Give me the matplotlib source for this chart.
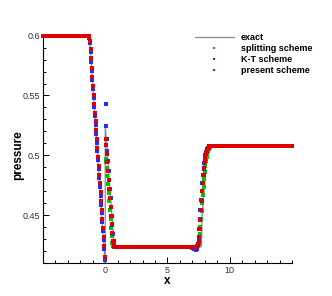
import matplotlib
matplotlib.use('Agg')
import matplotlib.pyplot as plt
from matplotlib.lines import Line2D
from matplotlib.ticker import MultipleLocator, FixedLocator, FormatStrFormatter

plt.rcParams['font.family'] = ['Liberation Sans', 'DejaVu Sans']

# exact solution
exact_x = [-5.0, -1.27, 0.0, 0.0, 0.72, 7.72, 7.78, 8.2, 15.0]
exact_y = [0.6, 0.6, 0.408, 0.525, 0.4235, 0.4235, 0.449, 0.508, 0.508]

# plateau levels
p_left = 0.6
p_mid = 0.4235
p_right = 0.508

# grid points, by region
x_flat_left = [-5.0, -4.8, -4.6, -4.4, -4.2, -4.0, -3.8, -3.6, -3.4, -3.2, -3.0, -2.8,
               -2.6, -2.4, -2.2, -2.0, -1.8, -1.6, -1.4]
x_fan = [-1.325, -1.275, -1.225, -1.175, -1.125, -1.075, -1.025, -0.975, -0.925,
         -0.875, -0.825, -0.775, -0.725, -0.675, -0.625, -0.575, -0.525, -0.475,
         -0.425, -0.375, -0.325, -0.275, -0.225, -0.175, -0.125, -0.075, -0.025]
x_drop = [0.025, 0.075, 0.125, 0.175, 0.225, 0.275, 0.325, 0.375, 0.425, 0.475,
          0.525, 0.575, 0.625, 0.675, 0.725, 0.775]
x_flat_mid = [0.8, 1.0, 1.2, 1.4, 1.6, 1.8, 2.0, 2.2, 2.4, 2.6, 2.8, 3.0, 3.2, 3.4, 3.6,
              3.8, 4.0, 4.2, 4.4, 4.6, 4.8, 5.0, 5.2, 5.4, 5.6, 5.8, 6.0, 6.2, 6.4, 6.6, 6.8]
x_shock = [7.0, 7.05, 7.1, 7.15, 7.2, 7.25, 7.3, 7.35, 7.4, 7.45, 7.5, 7.55, 7.6, 7.65,
           7.7, 7.75, 7.8, 7.85, 7.9, 7.95, 8.0, 8.05, 8.1, 8.15, 8.2, 8.25, 8.3, 8.35,
           8.4, 8.45, 8.5, 8.55, 8.6]
x_flat_right = [8.8, 9.0, 9.2, 9.4, 9.6, 9.8, 10.0, 10.2, 10.4, 10.6, 10.8, 11.0, 11.2,
                11.4, 11.6, 11.8, 12.0, 12.2, 12.4, 12.6, 12.8, 13.0, 13.2, 13.4, 13.6,
                13.8, 14.0, 14.2, 14.4, 14.6, 14.8, 15.0]

# present scheme (red)
red_fan = [0.5998, 0.5990, 0.5958, 0.5890, 0.5810, 0.5732, 0.5656, 0.5581, 0.5506,
           0.5431, 0.5357, 0.5283, 0.5209, 0.5135, 0.5061, 0.4987, 0.4913, 0.4839,
           0.4765, 0.4691, 0.4617, 0.4543, 0.4469, 0.4395, 0.4321, 0.4240, 0.4150]
red_drop = [0.5140, 0.5085, 0.5015, 0.4940, 0.4866, 0.4792, 0.4718, 0.4644, 0.4570,
            0.4496, 0.4422, 0.4348, 0.4285, 0.4250, 0.4238, 0.4235]
red_shock = [0.4235, 0.4235, 0.4235, 0.4235, 0.4235, 0.4235, 0.4235, 0.4236, 0.4240,
             0.4250, 0.4275, 0.4320, 0.4385, 0.4460, 0.4540, 0.4620, 0.4700, 0.4772,
             0.4838, 0.4893, 0.4940, 0.4978, 0.5008, 0.5030, 0.5046, 0.5057, 0.5065,
             0.5070, 0.5074, 0.5076, 0.5078, 0.5079, 0.5080]

# splitting scheme (green)
green_fan = [0.5997, 0.5986, 0.5950, 0.5878, 0.5797, 0.5719, 0.5642, 0.5567, 0.5492,
             0.5417, 0.5343, 0.5269, 0.5195, 0.5121, 0.5047, 0.4973, 0.4899, 0.4825,
             0.4751, 0.4677, 0.4603, 0.4529, 0.4455, 0.4381, 0.4307, 0.4228, 0.4142]
green_drop = [0.4970, 0.4945, 0.4895, 0.4830, 0.4760, 0.4688, 0.4615, 0.4542, 0.4468,
              0.4395, 0.4322, 0.4268, 0.4245, 0.4238, 0.4236, 0.4235]
green_shock = [0.4235, 0.4235, 0.4235, 0.4235, 0.4235, 0.4235, 0.4235, 0.4235, 0.4236,
               0.4242, 0.4258, 0.4290, 0.4340, 0.4400, 0.4465, 0.4532, 0.4600, 0.4668,
               0.4735, 0.4800, 0.4860, 0.4912, 0.4955, 0.4990, 0.5017, 0.5037, 0.5051,
               0.5061, 0.5068, 0.5073, 0.5076, 0.5078, 0.5079]

# K-T scheme (blue)
blue_fan = [0.5996, 0.5982, 0.5940, 0.5864, 0.5783, 0.5704, 0.5627, 0.5552, 0.5477,
            0.5402, 0.5328, 0.5254, 0.5180, 0.5106, 0.5032, 0.4958, 0.4884, 0.4810,
            0.4736, 0.4662, 0.4588, 0.4514, 0.4440, 0.4366, 0.4292, 0.4215, 0.4128]
blue_drop = [0.5430, 0.5246, 0.5135, 0.5035, 0.4950, 0.4870, 0.4792, 0.4716, 0.4640,
             0.4565, 0.4490, 0.4415, 0.4342, 0.4280, 0.4248, 0.4236]
blue_shock = [0.4226, 0.4222, 0.4218, 0.4215, 0.4213, 0.4212, 0.4212, 0.4213, 0.4222,
              0.4255, 0.4310, 0.4385, 0.4465, 0.4545, 0.4625, 0.4700, 0.4770, 0.4833,
              0.4888, 0.4935, 0.4975, 0.5005, 0.5028, 0.5045, 0.5056, 0.5064, 0.5070,
              0.5074, 0.5077, 0.5078, 0.5079, 0.5080, 0.5080]

c_green = '#00c400'
c_blue = '#2a2aff'
c_red = '#dc0000'
c_exact = '#8a8a8a'

x_all = x_flat_left + x_fan + x_drop + x_flat_mid + x_shock + x_flat_right


def serie(fan, drop, shock):
    return ([p_left] * len(x_flat_left) + fan + drop + [p_mid] * len(x_flat_mid)
            + shock + [p_right] * len(x_flat_right))


fig = plt.figure(figsize=(3.32, 2.96), dpi=100)
ax = fig.add_axes([0.1295, 0.1115, 0.75, 0.768])

ax.plot(exact_x, exact_y, '-', color=c_exact, lw=0.9, zorder=1)
for fan, drop, shock, col in [(green_fan, green_drop, green_shock, c_green),
                              (blue_fan, blue_drop, blue_shock, c_blue),
                              (red_fan, red_drop, red_shock, c_red)]:
    ax.plot(x_all, serie(fan, drop, shock), 's', ms=2.3, mew=0, color=col,
            clip_on=False, zorder=3)

ax.set_xlim(-5, 15)
ax.set_ylim(0.41, 0.6)

for s in ['top', 'right']:
    ax.spines[s].set_visible(False)
for s in ['left', 'bottom']:
    ax.spines[s].set_linewidth(0.8)

ax.xaxis.set_major_locator(FixedLocator([0, 5, 10]))
ax.xaxis.set_minor_locator(MultipleLocator(1))
ax.yaxis.set_major_locator(FixedLocator([0.45, 0.5, 0.55, 0.6]))
ax.yaxis.set_minor_locator(MultipleLocator(0.01))
ax.yaxis.set_major_formatter(FormatStrFormatter('%g'))
ax.tick_params(which='both', direction='in', width=0.7, colors='black',
               labelcolor='#333333', labelsize=6.5)
ax.tick_params(which='major', length=4.3)
ax.tick_params(which='minor', length=2.2)
ax.tick_params(axis='y', pad=2)
ax.tick_params(axis='x', pad=2.5)

ax.set_xlabel('x', fontsize=8.5, fontweight='bold')
ax.set_ylabel('pressure', fontsize=8.5, fontweight='bold')
ax.xaxis.set_label_coords(0.5, -0.055)
ax.yaxis.set_label_coords(-0.076, 0.475)

handles = [Line2D([], [], color=c_exact, lw=0.9),
           Line2D([], [], ls='none', marker='s', ms=1.9, mew=0, color=c_green),
           Line2D([], [], ls='none', marker='s', ms=1.9, mew=0, color=c_blue),
           Line2D([], [], ls='none', marker='s', ms=1.9, mew=0, color=c_red)]
labels = ['exact', 'splitting scheme', 'K-T scheme', 'present scheme']
ax.legend(handles, labels, loc='upper left', bbox_to_anchor=(0.5873, 0.888),
          bbox_transform=fig.transFigure, frameon=False, borderpad=0,
          borderaxespad=0, handlelength=4.3, handletextpad=0.8, labelspacing=0.22,
          prop={'size': 6.5, 'weight': 'bold'})

fig.savefig('out.png', dpi=100)
